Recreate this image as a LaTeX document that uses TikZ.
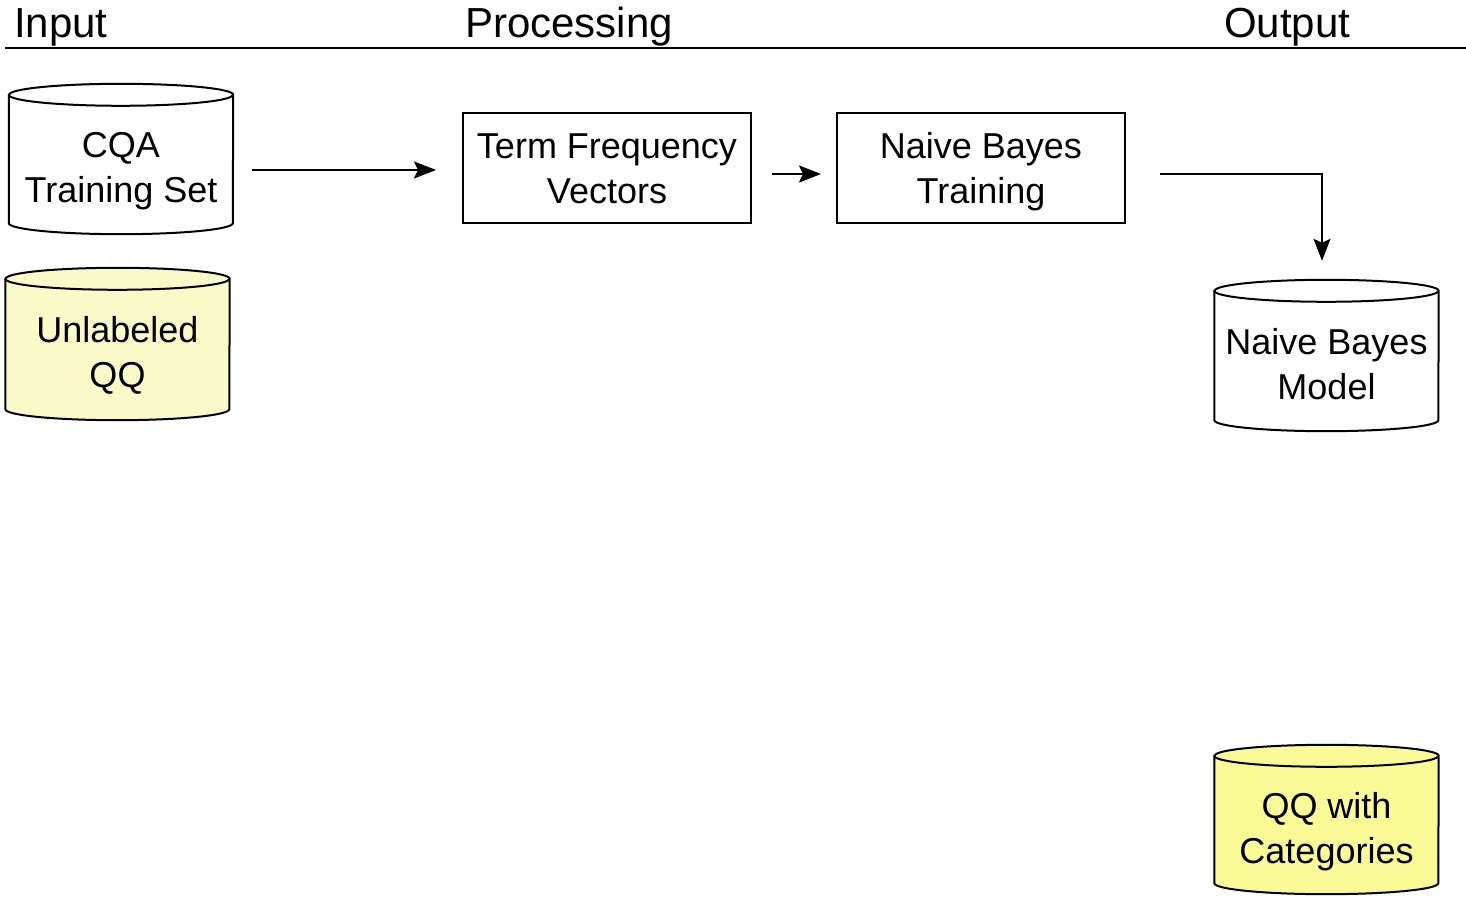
\documentclass[tikz,border=0pt]{standalone}
\usepackage{fontspec}
\setmainfont{Liberation Sans}
\usetikzlibrary{arrows.meta,backgrounds}
\definecolor{paleyellow}{RGB}{250,250,200}
\definecolor{brightyellow}{RGB}{250,250,150}
% Database drum drawn behind a named node: #1 node, #2 half width, #3 fill
\newcommand\dbdrum[3]{%
  \begin{scope}[on background layer]
    \filldraw[fill=#3, line width=2pt]
      (#1.north west) -- ([yshift=11pt]#1.south west)
      arc[start angle=180, end angle=360, x radius=#2pt, y radius=11pt]
      -- (#1.north east)
      arc[start angle=0, end angle=180, x radius=#2pt, y radius=11pt] -- cycle;
    \draw[line width=2pt] (#1.north west)
      arc[start angle=180, end angle=360, x radius=#2pt, y radius=11pt];
  \end{scope}}
\begin{document}
\begin{tikzpicture}[x=1pt, y=1pt,
  every node/.style={inner sep=0pt, align=center, font=\fontsize{36}{45}\selectfont},
  hdr/.style={anchor=base west, font=\fontsize{42}{50}\selectfont},
  stage/.style={draw, line width=2pt, minimum width=288pt, minimum height=110pt,
    text height=72pt, text depth=0pt},
  store/.style={minimum width=224pt, minimum height=#1pt,
    text height=77pt, text depth=0pt},
  arr/.style={line width=2pt, -{Stealth[length=22pt, width=17pt, inset=4pt]}},
]
\useasboundingbox (0,0) rectangle (1466,897);

% column headings and rule
\node[hdr] (hin)  at (14,859)   {Input};
\node[hdr] (hpro) at (465,859)  {Processing};
\node[hdr] (hout) at (1224,859) {Output};
\coordinate (ruleL) at (5,849);
\coordinate (ruleR) at (1466,849);
\draw[line width=2.5pt] (ruleL) -- (ruleR);

% data stores
\node[store=139] (cqa) at (121,732.5)  {CQA\\Training Set};
\dbdrum{cqa}{112}{white}
\node[store=141] (uqq) at (117.5,547.5) {Unlabeled\\QQ};
\dbdrum{uqq}{112}{paleyellow}
\node[store=140] (nbm) at (1326.5,536) {Naive Bayes\\Model};
\dbdrum{nbm}{112}{white}
\node[store=138] (qqc) at (1326.5,72)  {QQ with\\Categories};
\dbdrum{qqc}{112}{brightyellow}

% processing steps
\node[stage] (tfv) at (607,729) {Term Frequency\\Vectors};
\node[stage] (nbt) at (981,729) {Naive Bayes\\Training};

% connectors
\draw[arr] ([xshift=19pt, yshift=-5.5pt]cqa.east) -- ([xshift=-26pt, yshift=-2pt]tfv.west);
\draw[arr] ([xshift=20pt, yshift=-6pt]tfv.east) -- ([xshift=-15pt, yshift=-6pt]nbt.west);
\draw[arr] ([xshift=34pt, yshift=-6pt]nbt.east) -| ([xshift=-4.5pt, yshift=30pt]nbm.north);
\end{tikzpicture}
\end{document}
